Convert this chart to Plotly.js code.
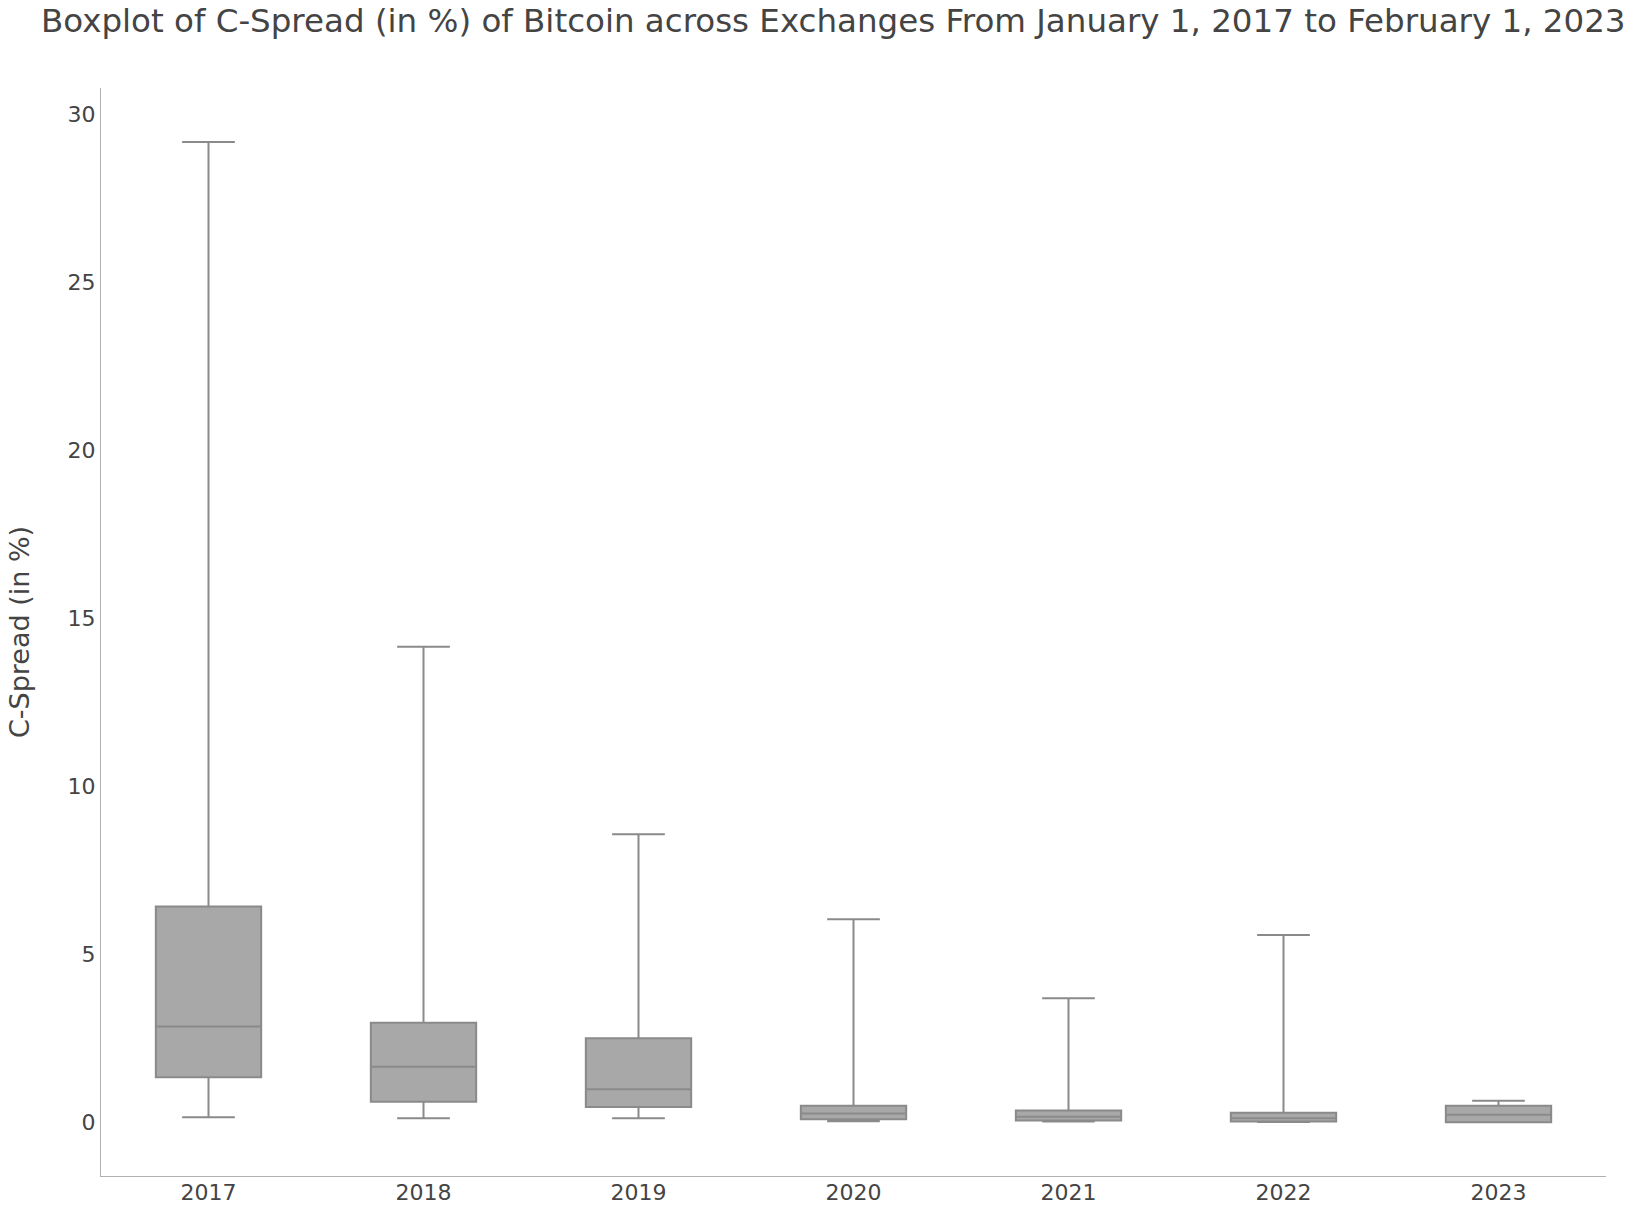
<!DOCTYPE html>
<html>
<head>
<meta charset="utf-8">
<script src="https://cdn.plot.ly/plotly-3.0.1.min.js"></script>
<style>html,body{margin:0;padding:0;background:#fff;}#chart{width:1640px;height:1206px;}</style>
</head>
<body>
<div id="chart"></div>
<script>
// Yearly C-Spread (in %) box statistics
const years = ["2017", "2018", "2019", "2020", "2021", "2022", "2023"];
const lowerWhisker = [0.15, 0.12, 0.12, 0.03, 0.02, 0.01, 0.0];
const q1Values = [1.34, 0.61, 0.45, 0.09, 0.05, 0.02, 0.0];
const medianValues = [2.85, 1.65, 0.98, 0.26, 0.16, 0.12, 0.22];
const q3Values = [6.42, 2.96, 2.50, 0.49, 0.35, 0.28, 0.49];
const upperWhisker = [29.17, 14.15, 8.57, 6.04, 3.69, 5.57, 0.64];

const trace = {
  type: "box",
  x: years,
  q1: q1Values,
  median: medianValues,
  q3: q3Values,
  lowerfence: lowerWhisker,
  upperfence: upperWhisker,
  marker: {color: "#8a8a8a"},
  line: {color: "#8a8a8a", width: 2},
  fillcolor: "#a8a8a8",
  whiskerwidth: 0.5,
  showlegend: false,
  hoverinfo: "skip"
};

const layout = {
  width: 1640,
  height: 1206,
  paper_bgcolor: "#ffffff",
  plot_bgcolor: "#ffffff",
  font: {family: "DejaVu Sans, Verdana, sans-serif", color: "#444444", size: 22},
  title: {
    text: "Boxplot of C-Spread (in %) of Bitcoin across Exchanges From January 1, 2017 to February 1, 2023",
    font: {size: 32.5, color: "#444444"},
    x: 0.025, xanchor: "left",
    y: 0.983, yanchor: "middle"
  },
  margin: {l: 101, r: 34, t: 88, b: 30},
  xaxis: {
    type: "category",
    showgrid: false,
    zeroline: false,
    showline: true,
    linecolor: "#b0b0b0",
    linewidth: 1,
    ticks: "",
    ticklabelstandoff: -3,
    tickfont: {size: 22}
  },
  yaxis: {
    range: [-1.6, 30.78],
    showgrid: false,
    zeroline: false,
    showline: true,
    linecolor: "#b0b0b0",
    linewidth: 1,
    ticks: "",
    tickvals: [0, 5, 10, 15, 20, 25, 30],
    tickfont: {size: 22},
    title: {text: "C-Spread (in %)", font: {size: 27}, standoff: 30}
  },
  boxgap: 0.3,
  boxgroupgap: 0.3
};

Plotly.newPlot("chart", [trace], layout, {staticPlot: true, displayModeBar: false});
</script>
</body>
</html>
